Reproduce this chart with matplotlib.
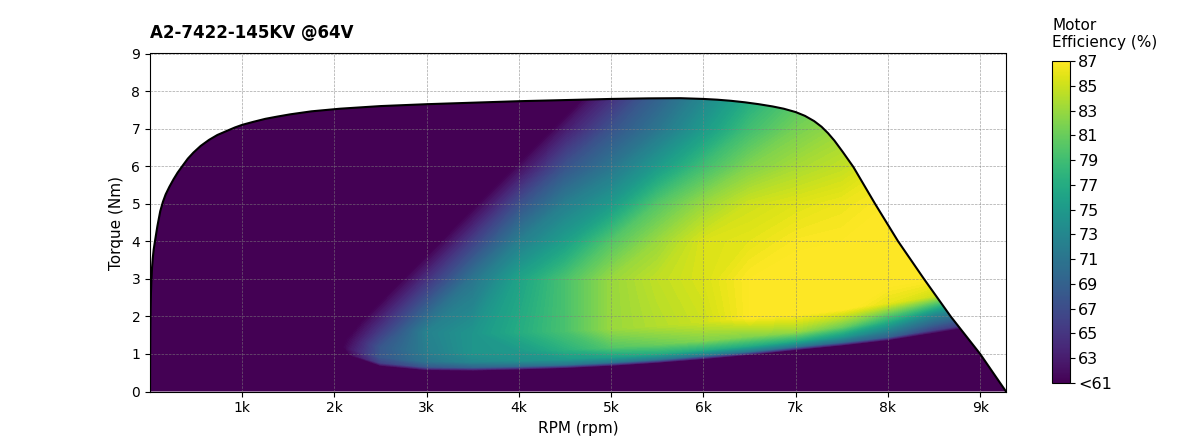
import numpy as np
import matplotlib
matplotlib.use("Agg")
import matplotlib.pyplot as plt
from matplotlib.patches import Polygon
from matplotlib.cm import ScalarMappable
from matplotlib.colors import Normalize

# torque limit curve
limit_rpm = [0, 1, 3, 6, 10, 15, 22, 30, 40, 57, 80, 111, 140, 170, 210, 255, 300, 350, 410, 470,
             550, 640, 730, 834, 920, 1000, 1120, 1250, 1380, 1520, 1750, 2060, 2500, 3000, 3500,
             4000, 4500, 5000, 5400, 5750, 6000, 6150, 6300, 6450, 6600, 6750, 6870, 7000, 7100,
             7200, 7280, 7350, 7420, 7510, 7625, 7740, 7860, 7985, 8110, 8250, 8390, 8535, 8680, 8840,
             9000, 9140, 9280]
limit_nm = [0, 0.8, 1.6, 2.2, 2.6, 2.95, 3.3, 3.55, 3.78, 4.05, 4.4, 4.8, 5.05, 5.25, 5.45, 5.65, 5.83, 6.0, 6.2, 6.36,
            6.54, 6.7, 6.83, 6.94, 7.03, 7.1, 7.18, 7.26, 7.32, 7.38, 7.46, 7.53, 7.6, 7.65, 7.69,
            7.73, 7.76, 7.79, 7.805, 7.81, 7.79, 7.77, 7.74, 7.7, 7.65, 7.59, 7.53, 7.44, 7.34,
            7.2, 7.05, 6.88, 6.68, 6.38, 5.98, 5.5, 5.0, 4.5, 4.0, 3.5, 3.0, 2.5, 2.0, 1.5,
            1.0, 0.5, 0]

# efficiency map: one column per rpm value
rpm_grid = [0, 1000, 2000, 2200, 2500, 3000, 3500, 4000, 4500, 5000, 5500,
            6000, 6500, 7000, 7500, 8000, 8500, 9000, 9280]
# torque where the low-torque edge of the map sits in each column
edge_nm = [1.0, 1.0, 1.0, 0.87, 0.67, 0.56, 0.55, 0.58, 0.62, 0.68, 0.76,
           0.86, 0.97, 1.1, 1.22, 1.36, 1.55, 1.75, 1.85]
edge_offsets = [0, 0.1, 0.25, 0.5, 1.0]
upper_nm = [3, 4, 5, 6, 7, 8.2]

# per column: at T=0, then at edge + offsets, then at upper_nm
eff_table = [
    [45, 45, 45, 45, 45, 45, 45, 45, 45, 45, 45, 45],
    [45, 46, 46, 46, 46, 46, 45, 45, 45, 45, 45, 45],
    [50, 57, 58, 59, 59, 56, 50.5, 44, 40, 40, 40, 40],
    [50, 59, 62, 63, 62, 59.6, 53.3, 47, 42, 40, 40, 40],
    [50, 60, 66, 68, 68, 65, 57.5, 51.8, 46, 42, 40, 40],
    [50, 60, 68, 71, 72, 72.5, 64.5, 58.8, 53.2, 47.5, 42, 40],
    [50, 60, 69, 73, 74.5, 74.5, 71, 65.8, 60.2, 54.5, 48.8, 42],
    [50, 60, 70, 74, 75, 77, 76, 72, 67.2, 61.5, 55.8, 49],
    [50, 60, 71, 75, 77.5, 79.5, 79.5, 75.5, 72, 67.5, 62.8, 56],
    [50, 60, 71, 76, 80, 83, 83, 80, 75, 71, 67.5, 63],
    [50, 60, 71, 77, 81, 84, 84.5, 83, 80, 75, 71, 68],
    [50, 60, 71, 77, 82, 85, 85.5, 85.5, 83, 79, 75, 72],
    [50, 60, 71, 77, 82, 87, 87, 86, 85, 82, 79, 76],
    [50, 60, 71, 77, 83, 87.5, 87.5, 86.8, 85.7, 83.5, 81.5, 79],
    [50, 60, 70, 75, 81, 87.5, 87.5, 87, 86.3, 84.5, 83, 81],
    [50, 60, 69, 72, 77, 86, 87.5, 87.5, 87, 86, 84, 82],
    [50, 60, 66, 69, 73, 85, 87, 87, 87, 86, 84, 82],
    [50, 60, 66, 68, 72, 82, 87, 87, 87, 86, 84, 82],
    [50, 60, 66, 68, 72, 82, 87, 87, 87, 86, 84, 82],
]

cbar_ticks = [61, 63, 65, 67, 69, 71, 73, 75, 77, 79, 81, 83, 85, 87]
cbar_labels = ["<61"] + [str(t) for t in cbar_ticks[1:]]
x_ticks = [1000, 2000, 3000, 4000, 5000, 6000, 7000, 8000, 9000]
x_labels = ["1k", "2k", "3k", "4k", "5k", "6k", "7k", "8k", "9k"]

# each column gets its own torque rows so the mesh follows the curved edge
torque_rows = []
for e in edge_nm:
    torque_rows.append([0] + [e + o for o in edge_offsets] + upper_nm)
Y = np.array(torque_rows)
X = np.array([[r] * Y.shape[1] for r in rpm_grid])
Z = np.array(eff_table)

fig = plt.figure(figsize=(12, 4.4), dpi=100)
ax = fig.add_axes([150 / 1200, 1 - 391.5 / 440, 856 / 1200, 338 / 440])

norm = Normalize(61, 87)
levels = np.arange(61, 87.01, 0.25)
cs = ax.contourf(X, Y, Z, levels=levels, cmap="viridis", norm=norm, extend="both", zorder=1)

outline = Polygon(np.column_stack([limit_rpm, limit_nm]), closed=True, transform=ax.transData,
                  facecolor="none", edgecolor="none")
ax.add_patch(outline)
cs.set_clip_path(outline)

ax.plot(limit_rpm, limit_nm, color="black", linewidth=1.5, zorder=3)

ax.set_xlim(0, 9280)
ax.set_ylim(0, 9)
ax.set_xticks(x_ticks)
ax.set_xticklabels(x_labels)
ax.set_yticks(range(10))
ax.tick_params(labelsize=10)
ax.set_axisbelow(False)
ax.grid(True, color="gray", linestyle="--", linewidth=0.5, alpha=0.7, zorder=2)
ax.set_xlabel("RPM (rpm)", fontsize=11)
ax.set_ylabel("Torque (Nm)", fontsize=11, labelpad=5)
ax.set_title("A2-7422-145KV @64V", loc="left", fontsize=12, fontweight="bold", pad=11)

cax = fig.add_axes([1052 / 1200, 1 - 383 / 440, 18 / 1200, 322 / 440])
cb = fig.colorbar(ScalarMappable(norm=norm, cmap="viridis"), cax=cax)
cb.set_ticks(cbar_ticks)
cb.set_ticklabels(cbar_labels)
cb.ax.tick_params(labelsize=11.5, pad=2.5)
cb.outline.set_linewidth(0.8)
fig.text(1052 / 1200, 1 - 50 / 440, "Motor\nEfficiency (%)", fontsize=11, ha="left", va="bottom",
         linespacing=1.2)

fig.savefig("out.png", dpi=100)
